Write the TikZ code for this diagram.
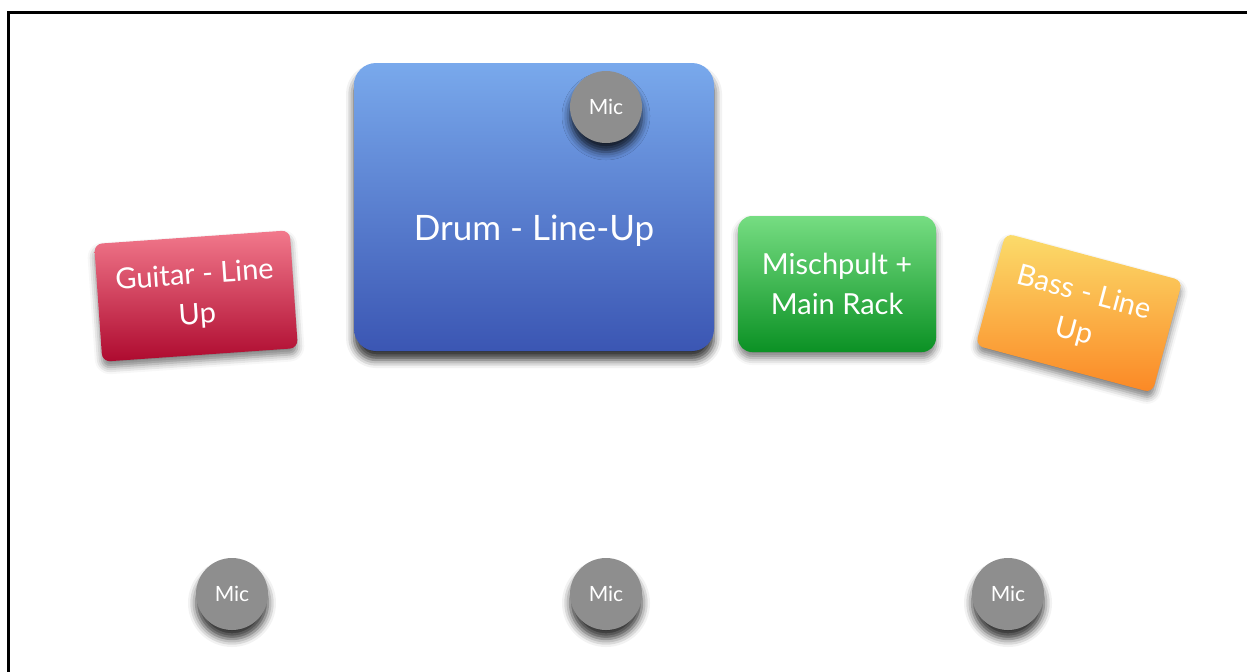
\documentclass[tikz,border=0pt]{standalone}
\usepackage{fontspec}
\setmainfont{Lato}
\usetikzlibrary{shadows.blur}
\definecolor{drumtop}{HTML}{79A9EC}
\definecolor{drumbot}{HTML}{3B56B3}
\definecolor{guitop}{HTML}{F2798C}
\definecolor{guibot}{HTML}{AE0A2F}
\definecolor{mixtop}{HTML}{76DD82}
\definecolor{mixbot}{HTML}{0B9124}
\definecolor{basstop}{HTML}{FBDC6B}
\definecolor{bassbot}{HTML}{FB8825}
\definecolor{micgray}{HTML}{8E8E8E}

\begin{document}
\begin{tikzpicture}[x=0.5pt,y=-0.5pt]
\tikzstyle{every node}+=[inner sep=0pt, text=white, align=center]
\tikzstyle{box}=[font=\fontsize{14.5}{20}\selectfont]
\tikzstyle{softshadow}=[blur shadow={shadow xshift=0pt, shadow yshift=-3pt, shadow opacity=50, shadow blur radius=3.5pt}]
\tikzstyle{darkshadow}=[blur shadow={shadow xshift=0pt, shadow yshift=-4.5pt, shadow opacity=80, shadow blur radius=4pt}]
\tikzstyle{mic}=[circle, fill=micgray, minimum size=36pt, font=\fontsize{10.5}{12}\selectfont, darkshadow]
\useasboundingbox (0,0) rectangle (1247,671);
\draw [black, line width=1.5pt] (8,680) -- (8,12) -- (1260,12);
\node [box, darkshadow, rounded corners=11pt, top color=drumtop, bottom color=drumbot, minimum width=180pt, minimum height=144pt] (drum) at (534,207) {};
\node [font=\fontsize{17.5}{20}\selectfont] (drumlabel) at (534,231) {Drum - Line-Up};
\node [box, softshadow, rounded corners=4pt, rotate=4, top color=guitop, bottom color=guibot, minimum width=98pt, minimum height=59pt] (guitar) at (196,296) {Guitar - Line\\Up};
\node [box, softshadow, rounded corners=7pt, top color=mixtop, bottom color=mixbot, minimum width=99pt, minimum height=68pt] (mixer) at (837,284) {Mischpult +\\Main Rack};
\node [box, softshadow, rounded corners=4pt, rotate=-15, top color=basstop, bottom color=bassbot, minimum width=91.5pt, minimum height=58pt] (bass) at (1079,313) {Bass - Line\\Up};
\node [mic] (drummic) at (606,107) {Mic};
\node [mic] (mic1) at (232,594) {Mic};
\node [mic] (mic2) at (606,594) {Mic};
\node [mic] (mic3) at (1008,594) {Mic};
\end{tikzpicture}
\end{document}
